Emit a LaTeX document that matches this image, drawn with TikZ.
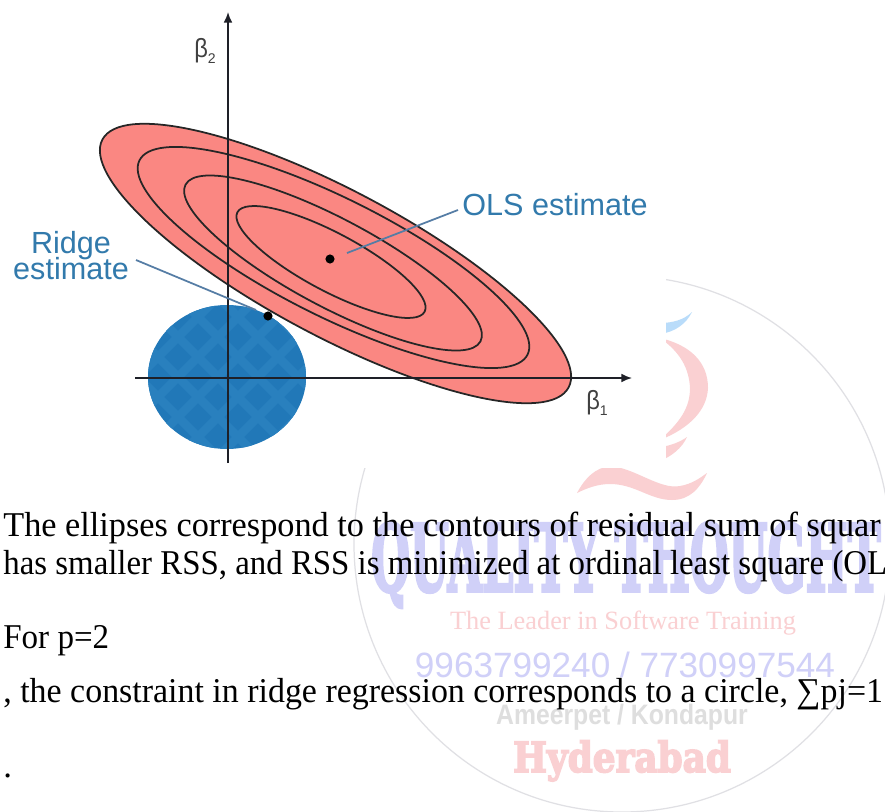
\documentclass[tikz,border=0pt]{standalone}
\usepackage{graphicx}
\usepackage{fontspec}
\setmainfont{Liberation Serif}
\newfontfamily\labelfont{Liberation Sans}
\newfontfamily\markfont[UprightFont=* Bold, FakeBold=4]{DejaVu Serif}
\usetikzlibrary{arrows.meta,positioning}
\definecolor{ContourFill}{RGB}{250,135,130}
\definecolor{RidgeBlue}{RGB}{33,120,184}
\definecolor{RidgeHatch}{RGB}{41,128,190}
\definecolor{LabelBlue}{RGB}{50,122,172}
\definecolor{LeaderBlue}{RGB}{85,125,165}
\definecolor{AxisInk}{RGB}{30,32,40}
\definecolor{MarkPink}{RGB}{250,208,210}
\definecolor{MarkBlue}{RGB}{208,208,248}
\definecolor{MarkSky}{RGB}{185,220,250}
\definecolor{MarkGrey}{RGB}{222,222,222}
\definecolor{MarkRing}{RGB}{224,224,228}
\tikzset{
  contour/.style={draw=black!85, line width=1pt},
  axisline/.style={draw=AxisInk, line width=1pt, -{Latex[length=6pt,width=5pt]}},
  leader/.style={draw=LeaderBlue, line width=1pt},
  estdot/.style={circle, fill=black, inner sep=0pt, minimum size=5.2pt},
  estlabel/.style={font=\labelfont\fontsize{17.4}{14.5}\selectfont, text=LabelBlue, align=center, inner sep=0pt},
  betalabel/.style={font=\labelfont\fontsize{15}{15}\selectfont, text=black!75, inner sep=0pt},
  bodytext/.style={anchor=base west, inner sep=0pt, font=\fontsize{19.8}{20}\selectfont, text=black},
  markbold/.style={anchor=base, inner sep=0pt, font=\markfont, text=MarkBlue},
}
\begin{document}
\begin{tikzpicture}[x=0.02cm, y=-0.02cm]
\clip (0,0) rectangle (885,811);
\fill[white] (0,0) rectangle (885,811);

% watermark
\draw[MarkRing, line width=0.7pt] (622,544) circle [radius=268];
\fill[MarkSky] (660,323) .. controls (672,323) and (684,320) .. (692,312) .. controls (686,324) and (675,332) .. (660,334) -- cycle;
\fill[MarkPink] (660,338) .. controls (690,345) and (708,362) .. (708,388) .. controls (707,410) and (690,428) .. (660,440) .. controls (680,422) and (690,408) .. (690,388) .. controls (689,368) and (680,352) .. (660,338) -- cycle;
\fill[MarkPink] (660,447) .. controls (670,446) and (680,442) .. (687,437) .. controls (682,448) and (672,456) .. (660,461) -- cycle;
\fill[MarkPink] (577,493) .. controls (585,478) and (595,468) .. (610,466) .. controls (635,468) and (660,490) .. (680,486) .. controls (692,484) and (700,478) .. (707,473) .. controls (700,488) and (690,500) .. (672,500) .. controls (650,500) and (635,484) .. (610,484) .. controls (598,484) and (587,488) .. (577,493) -- cycle;
\node[markbold] (markname) at (626,591) {\resizebox{290pt}{39pt}{QUALITY THOUGHT}};
\node[inner sep=0pt, text=MarkPink, font=\fontsize{15}{15}\selectfont] (markline) at (623,623) {The Leader in Software Training};
\node[inner sep=0pt, text=MarkBlue, font=\labelfont\fontsize{20}{20}\selectfont] (markphone) at (625,665) {9963799240 / 7730997544};
\node[inner sep=0pt, text=MarkGrey, font=\labelfont\bfseries\fontsize{16}{16}\selectfont] (markplace) at (622,717) {\scalebox{0.88}[1]{Ameerpet / Kondapur}};
\node[markbold, text=MarkPink] (markcity) at (622,772) {\resizebox{124pt}{18pt}{Hyderabad}};

% the picture sits on its own white sheet
\fill[white] (0,0) rectangle (666,468);

% contours of the RSS
\path[fill=ContourFill] (335.5,263.5) ellipse [x radius=264, y radius=73, rotate=-28];
% the ridge constraint
\begin{scope}
\clip (227,377) ellipse [x radius=79, y radius=72];
\fill[RidgeBlue] (140,300) rectangle (315,455);
\foreach \k in {-210,-170,...,210} {
  \draw[RidgeHatch, line width=5pt] (228+\k-90,377-90) -- (228+\k+90,377+90);
  \draw[RidgeHatch, line width=5pt] (228+\k-90,377+90) -- (228+\k+90,377-90);
}
\end{scope}
\draw[contour] (335.5,263.5) ellipse [x radius=264, y radius=73, rotate=-28];
\draw[contour] (333.5,257.5) ellipse [x radius=217, y radius=59, rotate=-26.6];
\draw[contour] (333,263) ellipse [x radius=167, y radius=44, rotate=-28];
\draw[contour] (331,262) ellipse [x radius=106, y radius=29, rotate=-28];

% axes
\coordinate (xstart) at (135,378);
\coordinate (xend) at (632,378);
\coordinate (ystart) at (228,463);
\coordinate (yend) at (228,12);
\draw[axisline] (xstart) -- (xend);
\draw[axisline] (ystart) -- (yend);
\node[betalabel] (betaone) at (597,403) {\scalebox{0.9}[1]{β}\raisebox{-3pt}{\fontsize{8}{8}\selectfont 1}};
\node[betalabel] (betatwo) at (205,51) {\scalebox{0.9}[1]{β}\raisebox{-3pt}{\fontsize{8}{8}\selectfont 2}};

% estimates and their labels
\node[estdot] (olsdot) at (330,259) {};
\node[estdot] (ridgedot) at (268,316) {};
\node[estlabel] (olslabel) at (555,205) {OLS estimate};
\node[estlabel] (ridgelabel) at (71,256) {Ridge\\[-2.5pt]estimate};
\coordinate (olsfoot) at (347,253);
\coordinate (olshead) at (458,210);
\coordinate (ridgehead) at (136,260);
\coordinate (ridgefoot) at (256,310);
\draw[leader] (olsfoot) -- (olshead);
\draw[leader] (ridgehead) -- (ridgefoot);

% text below
\node[bodytext] (lineone) at (3,536) {\scalebox{0.985}[1]{The ellipses correspond to the contours of residual sum of squar}};
\node[bodytext] (linetwo) at (3,574) {\scalebox{0.945}[1]{has smaller RSS, and RSS is minimized at ordinal least square (OL}};
\node[bodytext] (linethree) at (3,648) {\scalebox{0.95}[1]{For p=2}};
\node[bodytext] (linefour) at (3,702) {\scalebox{0.975}[1]{, the constraint in ridge regression corresponds to a circle, ∑pj=1}};
\node[bodytext] (linefive) at (3,777) {.};
\end{tikzpicture}
\end{document}
